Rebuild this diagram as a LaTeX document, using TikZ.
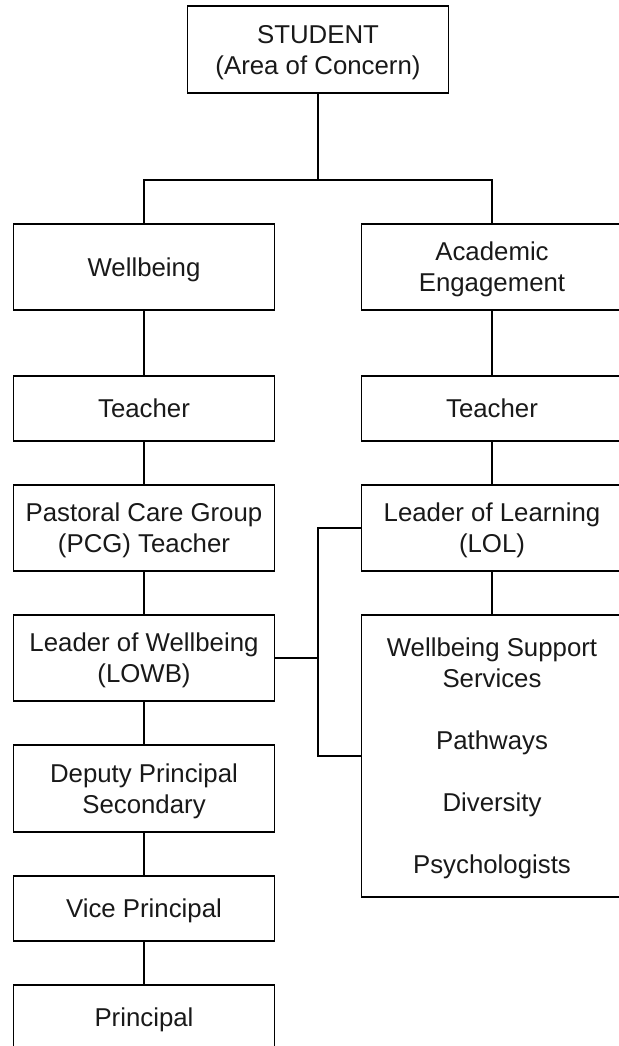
\documentclass[tikz,border=0pt]{standalone}
\usepackage{fontspec}
\setmainfont{Liberation Sans}
\begin{document}
\begin{tikzpicture}[x=1pt,y=-1pt,
  box/.style={draw=black,line width=1.8pt,minimum width=261pt,inner sep=0pt,align=center,
    font=\fontsize{25.8}{31}\selectfont,text=black!90,text depth=0pt},
  conn/.style={draw=black,line width=2pt}]
\useasboundingbox (0,0) rectangle (618,1046);
\node[box,minimum height=87pt] (student) at (318,49.5) {STUDENT\\(Area of Concern)};
\node[box,minimum height=86pt] (wb) at (144,267) {Wellbeing};
\node[box,minimum height=86pt] (ae) at (492,267) {Academic\\Engagement};
\node[box,minimum height=65pt] (t1) at (144,408.5) {Teacher};
\node[box,minimum height=65pt] (t2) at (492,408.5) {Teacher};
\node[box,minimum height=86pt] (pcg) at (144,528) {Pastoral Care Group\\(PCG) Teacher};
\node[box,minimum height=86pt] (lol) at (492,528) {Leader of Learning\\(LOL)};
\node[box,minimum height=86pt] (lowb) at (144,658) {Leader of Wellbeing\\(LOWB)};
\node[box,minimum height=282pt] (wss) at (492,756) {Wellbeing Support\\Services\\[31pt]Pathways\\[31pt]Diversity\\[31pt]Psychologists};
\node[box,minimum height=87pt] (dp) at (144,788.5) {Deputy Principal\\Secondary};
\node[box,minimum height=65pt] (vp) at (144,908.5) {Vice Principal};
\node[box,minimum height=65pt] (pr) at (144,1017.5) {Principal};
\coordinate (bus) at (318,180);
\coordinate (j) at (318,658);
\draw[conn] (student.south) -- (bus);
\draw[conn] (wb.north) |- (bus) -| (ae.north);
\draw[conn] (wb) -- (t1);
\draw[conn] (t1) -- (pcg);
\draw[conn] (pcg) -- (lowb);
\draw[conn] (lowb) -- (dp);
\draw[conn] (dp) -- (vp);
\draw[conn] (vp) -- (pr);
\draw[conn] (ae) -- (t2);
\draw[conn] (t2) -- (lol);
\draw[conn] (lol) -- (wss);
\draw[conn] (lowb.east) -- (j);
\draw[conn] (lol.west) -| (j);
\draw[conn] (wss.west) -| (j);
\end{tikzpicture}
\end{document}
